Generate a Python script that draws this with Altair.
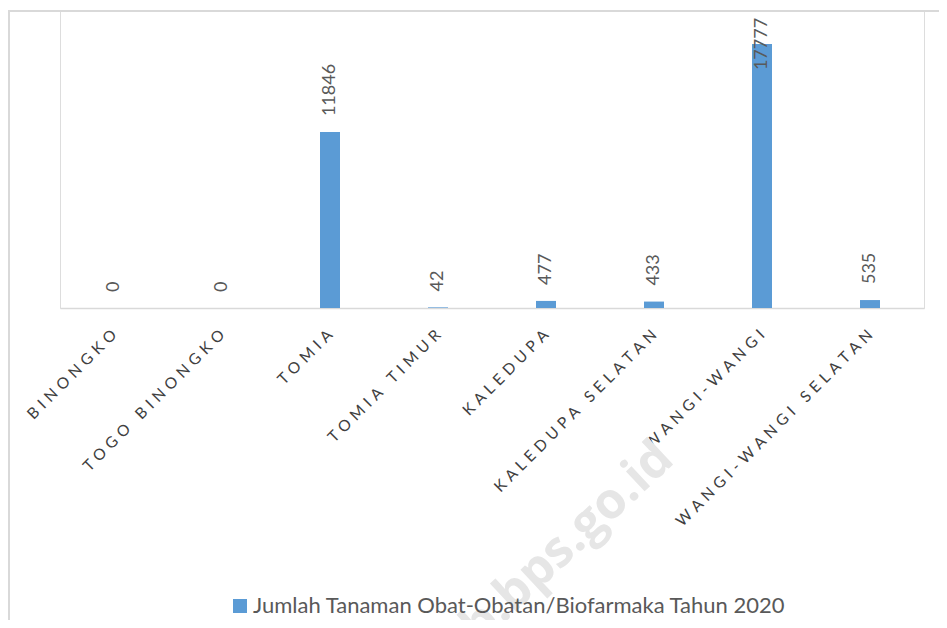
import altair as alt
import pandas as pd

categories = ["BINONGKO", "TOGO BINONGKO", "TOMIA", "TOMIA TIMUR", "KALEDUPA",
              "KALEDUPA SELATAN", "WANGI-WANGI", "WANGI-WANGI SELATAN"]
values = [0, 0, 11846, 42, 477, 433, 17777, 535]
series_name = "Jumlah Tanaman Obat-Obatan/Biofarmaka Tahun 2020"
watermark = "wakatobikab.bps.go.id"

df = pd.DataFrame({"kecamatan": categories, "value": values, "series": series_name})

FONT = "Lato"
W, H = 864, 297

x_enc = alt.X("kecamatan:N", sort=categories, title=None,
              scale=alt.Scale(paddingInner=0.0, paddingOuter=0.0),
              axis=alt.Axis(labelAngle=-45, labelAlign="right", labelBaseline="middle",
                            labelPadding=24, labelFontSize=15.5, labelFont=FONT,
                            labelColor="#404040", ticks=False, domainColor="#d9d9d9",
                            domainWidth=1.5, grid=False, labelLimit=0,
                            labelExpr="join(split(datum.label, ''), '\u00a0\u200a')"))
y_enc = alt.Y("value:Q", scale=alt.Scale(domain=[0, 20000], nice=False), axis=None)

base = alt.Chart(df)

bars = base.mark_bar(size=20).encode(
    x=x_enc, y=y_enc,
    color=alt.Color("series:N", scale=alt.Scale(range=["#5b9bd5"]),
                    legend=alt.Legend(orient="none", legendX=169, legendY=584, title=None,
                                      symbolType="square", symbolSize=196,
                                      symbolStrokeWidth=0, labelFontSize=22,
                                      labelFont=FONT, labelColor="#595959",
                                      labelLimit=0, labelOffset=2)),
)

labels = base.transform_calculate(
    label_y="min(datum.value + 1077, 16019)"
).mark_text(angle=270, align="left", baseline="middle", fontSize=18,
            font=FONT, color="#595959").encode(
    x=alt.X("kecamatan:N", sort=categories),
    y=alt.Y("label_y:Q"),
    text=alt.Text("value:Q", format="d"),
)

wm = alt.Chart(pd.DataFrame({"t": [watermark]})).mark_text(
    angle=317, align="right", baseline="alphabetic", fontSize=50, fontWeight="bold",
    font="Open Sans", color="#e6e6e6").encode(
    x=alt.value(616), y=alt.value(451), text="t:N")

top_border = alt.Chart(pd.DataFrame({"a": [0]})).mark_rule(color="#d9d9d9", strokeWidth=2).encode(
    x=alt.value(-52), x2=alt.value(W + 20), y=alt.value(0))
left_border = alt.Chart(pd.DataFrame({"a": [0]})).mark_rule(color="#d9d9d9", strokeWidth=2).encode(
    x=alt.value(-51), y=alt.value(0), y2=alt.value(640))

chart = alt.layer(wm, top_border, left_border, bars, labels).properties(
    width=W, height=H,
    padding={"left": 52, "top": 3, "right": 15, "bottom": 312},
    autosize=alt.AutoSizeParams(type="none"),
).configure_view(stroke=None).configure(background="white")

chart.save("out.html", embed_options={"renderer": "svg", "actions": False})
